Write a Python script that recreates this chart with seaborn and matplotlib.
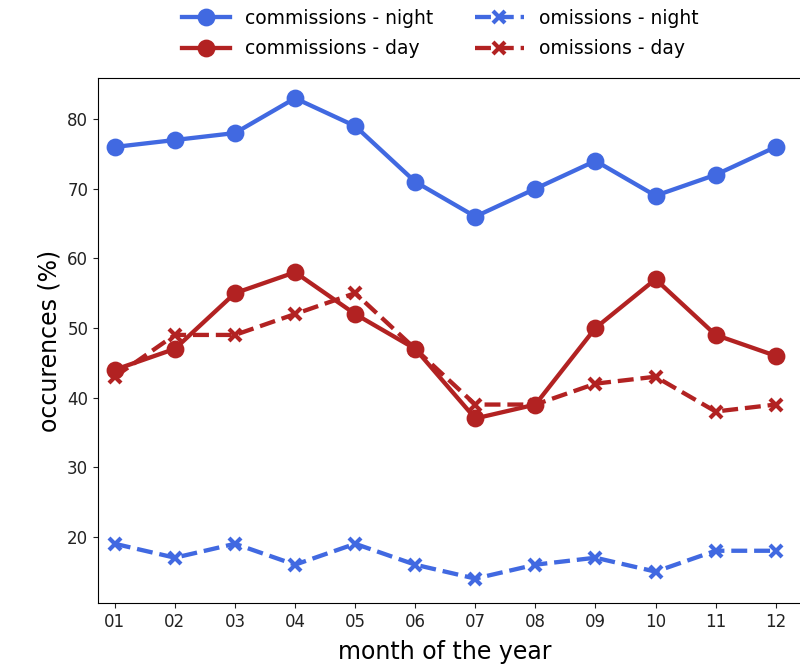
import matplotlib
matplotlib.use("Agg")
import matplotlib.pyplot as plt
import seaborn as sns
import pandas as pd

months = ["01", "02", "03", "04", "05", "06", "07", "08", "09", "10", "11", "12"]
commissions_night = [76, 77, 78, 83, 79, 71, 66, 70, 74, 69, 72, 76]
commissions_day = [44, 47, 55, 58, 52, 47, 37, 39, 50, 57, 49, 46]
omissions_night = [19, 17, 19, 16, 19, 16, 14, 16, 17, 15, 18, 18]
omissions_day = [43, 49, 49, 52, 55, 47, 39, 39, 42, 43, 38, 39]

series = [
    ("commissions - night", commissions_night, "#4169E1", "o", "-"),
    ("commissions - day", commissions_day, "#B22222", "o", "-"),
    ("omissions - night", omissions_night, "#4169E1", "x", "--"),
    ("omissions - day", omissions_day, "#B22222", "x", "--"),
]

plt.rcParams["font.family"] = ["DejaVu Sans"]
fig = plt.figure(figsize=(8, 6.67), dpi=100)
ax = fig.add_axes([0.1225, 0.096, 0.95, 0.787])

for name, vals, color, marker, ls in series:
    df = pd.DataFrame({"month": months, "value": vals})
    kw = dict(markersize=10.5, linewidth=3.1)
    if marker == "x":
        kw = dict(markersize=9, linewidth=3.1, markeredgewidth=3)
    sns.pointplot(data=df, x="month", y="value", color=color, markers=marker,
                  linestyles=ls, label=name, ax=ax, **kw)

if ax.get_legend() is not None:
    ax.get_legend().remove()

ax.set_xlim(-0.28, 12.37)
ax.set_ylim(10.5, 85.9)
ax.set_yticks([20, 30, 40, 50, 60, 70, 80])
ax.tick_params(labelsize=12, colors="#222222")
ax.set_xlabel("month of the year", fontsize=17)
ax.xaxis.set_label_coords((445 - 98) / 760, -0.07)
ax.set_ylabel("occurences (%)", fontsize=17)

handles, labels = ax.get_legend_handles_labels()
order = [labels.index(s[0]) for s in series]
fig.legend([handles[i] for i in order], [labels[i] for i in order], ncol=2,
           loc="upper center", bbox_to_anchor=(0.55, 1.012), frameon=False,
           fontsize=13.5, columnspacing=2.2, handlelength=2.6, labelspacing=0.6)

fig.savefig("out.png", dpi=100)
